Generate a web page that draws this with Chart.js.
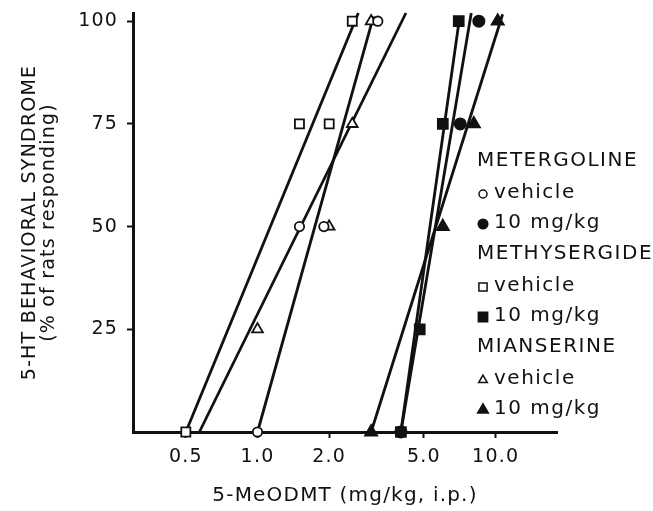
<!DOCTYPE html>
<html>
<head>
<meta charset="utf-8">
<script src="https://cdn.jsdelivr.net/npm/chart.js@4.4.1/dist/chart.umd.min.js"></script>
<style>
    html, body { margin: 0; padding: 0; background: #fff; }
</style>
</head>
<body>
<canvas id="dose-plot" width="653" height="511"></canvas>
<script>
// axis ticks
const xTicks = [0.5, 1.0, 2.0, 5.0, 10.0];
const yTicks = [25, 50, 75, 100];

// metergoline (circles)
const metVehX = [1.0, 1.5, 1.9, 3.2];
const metVehY = [0, 50, 50, 100];
const met10X = [4.0, 7.1, 8.5];
const met10Y = [0, 75, 100];

// methysergide (squares)
const methVehX = [0.5, 1.5, 2.0, 2.5];
const methVehY = [0, 75, 75, 100];
const meth10X = [4.0, 4.8, 6.0, 7.0];
const meth10Y = [0, 25, 75, 100];

// mianserine (triangles)
const mianVehX = [1.0, 2.0, 2.5, 3.0];
const mianVehY = [25, 50, 75, 100];
const mian10X = [3.0, 6.0, 8.1, 10.2];
const mian10Y = [0, 50, 75, 100];

// fitted lines, end points
const metVehLineX = [1.0, 3.07];
const metVehLineY = [0, 101.2];
const met10LineX = [4.0, 7.9];
const met10LineY = [0, 102];
const methVehLineX = [0.5, 2.65];
const methVehLineY = [0, 102];
const meth10LineX = [4.0, 7.07];
const meth10LineY = [0, 101.2];
const mianVehLineX = [0.57, 4.2];
const mianVehLineY = [0, 102];
const mian10LineX = [3.0, 10.7];
const mian10LineY = [0, 101.7];

const groupNames = ["METERGOLINE", "METHYSERGIDE", "MIANSERINE"];
const entryNames = ["vehicle", "10 mg/kg"];

const INK = "#111";
const FONT = "'DejaVu Sans', sans-serif";

const pts = (xs, ys) => xs.map((x, i) => ({ x: x, y: ys[i] }));

function markers(xs, ys, style, radius, filled) {
    return {
        data: pts(xs, ys),
        showLine: false,
        pointStyle: style,
        pointRadius: radius,
        pointBorderWidth: 1.8,
        pointBorderColor: INK,
        pointBackgroundColor: filled ? INK : "#fff",
        clip: false,
        order: 1,
    };
}

function fitLine(xs, ys) {
    return {
        data: pts(xs, ys),
        showLine: true,
        borderColor: INK,
        borderWidth: 2.8,
        pointRadius: 0,
        clip: false,
        order: 2,
    };
}

const spacing = {
    id: "spacing",
    beforeDraw(chart) {
        chart.ctx.letterSpacing = "1.2px";
    },
};

const groupLegend = {
    id: "groupLegend",
    afterDraw(chart) {
        const ctx = chart.ctx;
        const area = chart.chartArea;
        const styles = [
            ["circle", 4, "circle", 4.8],
            ["rect", 5.8, "rect", 6.6],
            ["triangle", 5, "triangle", 6.2],
        ];
        ctx.save();
        ctx.letterSpacing = "1.5px";
        ctx.font = "20px " + FONT;
        ctx.textBaseline = "middle";
        ctx.strokeStyle = INK;
        groupNames.forEach((name, g) => {
            const top = area.top + 148 + g * 93;
            const x = area.right - 80;
            ctx.fillStyle = INK;
            ctx.fillText(name, x, top);
            entryNames.forEach((entry, e) => {
                const y = top + (e === 0 ? 32 : 62);
                const s = styles[g];
                ctx.lineWidth = 1.5;
                ctx.fillStyle = e === 0 ? "#fff" : INK;
                Chart.helpers.drawPoint(ctx, {
                    pointStyle: s[e * 2],
                    radius: s[e * 2 + 1],
                    borderWidth: 1.5,
                    rotation: 0,
                }, x + 6, y + 1);
                ctx.fillStyle = INK;
                ctx.fillText(entry, x + 17, y);
            });
        });
        ctx.restore();
    },
};

const ctx = document.getElementById("dose-plot").getContext("2d");
const doseChart = new Chart(ctx, {
    type: "scatter",
    data: {
        datasets: [
            fitLine(metVehLineX, metVehLineY),
            fitLine(met10LineX, met10LineY),
            fitLine(methVehLineX, methVehLineY),
            fitLine(meth10LineX, meth10LineY),
            fitLine(mianVehLineX, mianVehLineY),
            fitLine(mian10LineX, mian10LineY),
            markers(metVehX, metVehY, "circle", 4.7, false),
            markers(met10X, met10Y, "circle", 5.6, true),
            markers(methVehX, methVehY, "rect", 6.4, false),
            markers(meth10X, meth10Y, "rect", 7, true),
            markers(mianVehX, mianVehY, "triangle", 6.2, false),
            markers(mian10X, mian10Y, "triangle", 7, true),
        ]
    },
    options: {
        responsive: false,
        animation: false,
        devicePixelRatio: 1,
        layout: {
            padding: { top: 13, right: 96, bottom: 0, left: 0 }
        },
        scales: {
            x: {
                type: "logarithmic",
                position: "bottom",
                min: 0.316,
                max: 18.1,
                afterBuildTicks: (scale) => {
                    scale.ticks = xTicks.map(v => ({ value: v }));
                },
                afterFit: (scale) => {
                    scale.height = 79;
                    scale.paddingLeft = 0;
                    scale.paddingRight = 0;
                },
                ticks: {
                    autoSkip: false,
                    maxRotation: 0,
                    padding: 8,
                    color: INK,
                    font: { family: FONT, size: 19 },
                    callback: (value) => Number(value).toFixed(1),
                },
                grid: {
                    drawOnChartArea: false,
                    tickLength: 6,
                    tickWidth: 2,
                    tickColor: INK,
                },
                border: { color: INK, width: 3 },
                title: {
                    display: true,
                    text: "5-MeODMT (mg/kg, i.p.)",
                    color: INK,
                    font: { family: FONT, size: 20 },
                    padding: { top: 0, bottom: 3 },
                },
            },
            y: {
                min: 0,
                max: 102,
                afterBuildTicks: (scale) => {
                    scale.ticks = yTicks.map(v => ({ value: v }));
                },
                afterFit: (scale) => {
                    scale.width = 133;
                    scale.paddingTop = 0;
                    scale.paddingBottom = 0;
                },
                ticks: {
                    padding: 9,
                    color: INK,
                    font: { family: FONT, size: 19 },
                },
                grid: {
                    drawOnChartArea: false,
                    tickLength: 6,
                    tickWidth: 2,
                    tickColor: INK,
                },
                border: { color: INK, width: 3 },
                title: {
                    display: true,
                    text: ["5-HT BEHAVIORAL SYNDROME", "(% of rats responding)"],
                    color: INK,
                    font: { family: FONT, size: 19, lineHeight: 1.0 },
                    padding: { top: 20.5, bottom: 0 },
                },
            },
        },
        plugins: {
            legend: { display: false },
            tooltip: { enabled: false },
        },
    },
    plugins: [spacing, groupLegend],
});
</script>
</body>
</html>
